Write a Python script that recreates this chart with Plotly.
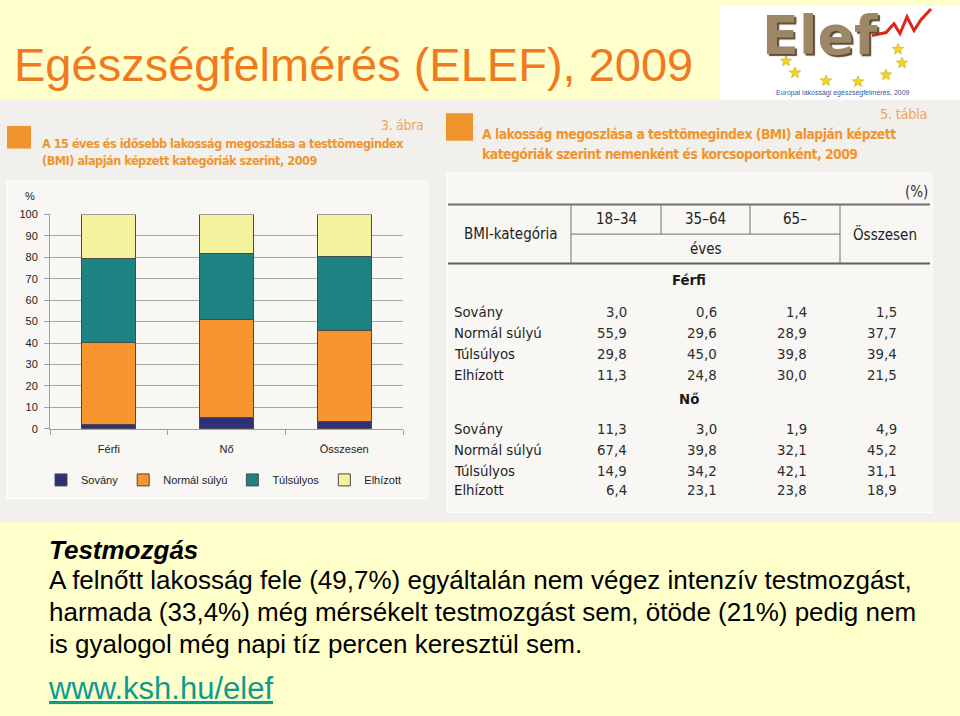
import math
import plotly.graph_objects as go

# ---------------- data ----------------
categories = ['Férfi', 'Nő', 'Összesen']
sovany = [1.8, 5.5, 3.5]
normal_sulyu = [38.5, 45.3, 42.3]
tulsulyos = [39.0, 31.0, 34.4]
elhizott = [20.7, 18.2, 19.8]
series_names = ['Sovány', 'Normál súlyú', 'Túlsúlyos', 'Elhízott']
series_colors = ['#2E3078', '#F7952E', '#1C8382', '#F4F29C']

y_ticks = [0, 10, 20, 30, 40, 50, 60, 70, 80, 90, 100]

age_groups = ['18–34', '35–64', '65–']
bmi_labels = ['Sovány', 'Normál súlyú', 'Túlsúlyos', 'Elhízott']
ferfi_rows = [[3.0, 0.6, 1.4, 1.5],
              [55.9, 29.6, 28.9, 37.7],
              [29.8, 45.0, 39.8, 39.4],
              [11.3, 24.8, 30.0, 21.5]]
no_rows = [[11.3, 3.0, 1.9, 4.9],
           [67.4, 39.8, 32.1, 45.2],
           [14.9, 34.2, 42.1, 31.1],
           [6.4, 23.1, 23.8, 18.9]]

body_lines = [
    'A felnőtt lakosság fele (49,7%) egyáltalán nem végez intenzív testmozgást,',
    'harmada (33,4%) még mérsékelt testmozgást sem, ötöde (21%) pedig nem',
    'is gyalogol még napi tíz percen keresztül sem.',
]

# ---------------- helpers ----------------
W, H = 960, 716
ARIAL = 'Liberation Sans, Arial, sans-serif'
NARROW = 'DejaVu Sans Condensed, Liberation Sans Narrow, Arial Narrow, sans-serif'
ORANGE = '#F0952E'
ORANGE_LIGHT = '#F2A35A'


def X(px):
    return px / W


def Y(py):
    return 1 - py / H


shapes = []
annotations = []


def rect(x0, y0, x1, y1, fill, line=None, lw=0, layer='below'):
    shapes.append(dict(type='rect', xref='paper', yref='paper',
                       x0=X(x0), x1=X(x1), y0=Y(y1), y1=Y(y0),
                       fillcolor=fill, layer=layer,
                       line=dict(color=line or fill, width=lw)))


def hline(x0, x1, y, color='#666666', w=1):
    shapes.append(dict(type='line', xref='paper', yref='paper',
                       x0=X(x0), x1=X(x1), y0=Y(y), y1=Y(y),
                       line=dict(color=color, width=w), layer='above'))


def vline(x, y0, y1, color='#666666', w=1):
    shapes.append(dict(type='line', xref='paper', yref='paper',
                       x0=X(x), x1=X(x), y0=Y(y0), y1=Y(y1),
                       line=dict(color=color, width=w), layer='above'))


def path_of(points, close=False):
    p = ' '.join([('M' if i == 0 else 'L') + f'{X(px):.5f},{Y(py):.5f}'
                  for i, (px, py) in enumerate(points)])
    return p + (' Z' if close else '')


def star(cx, cy, r):
    pts = []
    for k in range(10):
        ang = -math.pi / 2 + k * math.pi / 5
        rr = r if k % 2 == 0 else r * 0.42
        pts.append((cx + rr * math.cos(ang), cy + rr * math.sin(ang)))
    shapes.append(dict(type='path', xref='paper', yref='paper', layer='above',
                       path=path_of(pts, True), fillcolor='#F4D51E',
                       line=dict(color='#C9A414', width=0.6)))


def txt(x, y, s, size, color='#1E1E1E', xanchor='left', family=ARIAL, **fontkw):
    annotations.append(dict(xref='paper', yref='paper', x=X(x), y=Y(y),
                            text=s, showarrow=False, xanchor=xanchor,
                            yanchor='middle', borderpad=0,
                            font=dict(size=size, color=color, family=family, **fontkw)))


def squeeze(s, ls):
    return f'<span style="letter-spacing:{ls}px">{s}</span>'


def fmt(v):
    return f'{v:.1f}'.replace('.', ',')


# ---------------- background regions ----------------
rect(0, 95, 960, 525, '#F2F0ED')           # grey picture band
rect(720, 0, 960, 95, '#FFFFFF')           # logo area
rect(7, 178, 428, 501, '#F8F7F4', '#FFFFFF', 1)   # chart box
rect(447, 170, 932, 515, '#F8F7F4', '#FFFFFF', 1)  # table box
rect(7, 122, 31, 145, ORANGE)              # orange squares
rect(446, 109, 473, 137, ORANGE)

# ---------------- title ----------------
txt(13, 60, 'Egészségfelmérés (ELEF), 2009', 47, '#F07A1E')

# ---------------- logo ----------------
txt(820, 30, '<b>Elef</b>', 54, '#9C8767', xanchor='center',
    family='DejaVu Sans, sans-serif', shadow='2px 2px 1px #5C4B33')
shapes.append(dict(type='path', xref='paper', yref='paper', layer='above',
                   path=path_of([(872, 30), (886, 27), (894, 18), (900, 28),
                                 (907, 11), (914, 25), (921, 14), (931, 3)]),
                   line=dict(color='#E0241B', width=3)))
for sx, sy in [(795, 68), (826, 76), (858, 77), (886, 70), (902, 58), (898, 44), (786, 56)]:
    star(sx, sy, 6)
txt(843, 88, 'Európai lakossági egészségfelmérés, 2009', 7, '#3A5A9A', xanchor='center')

# ---------------- left chart headings ----------------
txt(425, 121, squeeze('3. ábra', -0.3), 14, ORANGE_LIGHT, xanchor='right', family=NARROW)
txt(41, 140, squeeze('<b>A 15 éves és idősebb lakosság megoszlása a testtömegindex</b>', -0.5),
    12.6, ORANGE, family=NARROW)
txt(41, 157, squeeze('<b>(BMI) alapján képzett kategóriák szerint, 2009</b>', -0.5),
    12.6, ORANGE, family=NARROW)
txt(30, 193, '%', 11, '#222222', xanchor='center')

# ---------------- right table ----------------
txt(928, 110, squeeze('5. tábla', -0.3), 14.5, ORANGE_LIGHT, xanchor='right', family=NARROW)
txt(481, 130, squeeze('<b>A lakosság megoszlása a testtömegindex (BMI) alapján képzett</b>', -0.5),
    13.8, ORANGE, family=NARROW)
txt(481, 151, squeeze('<b>kategóriák szerint nemenként és korcsoportonként, 2009</b>', -0.5),
    13.8, ORANGE, family=NARROW)
txt(929, 189, '(%)', 15, '#333333', xanchor='right', family=NARROW)

hline(448, 930, 202, '#707070', 2)
hline(448, 930, 262, '#606060', 2)
hline(571, 840, 232, '#707070', 1)
vline(571, 202, 262, '#707070', 1)
vline(661, 202, 232, '#707070', 1)
vline(750, 202, 232, '#707070', 1)
vline(840, 202, 262, '#707070', 1)

txt(463, 232, 'BMI-kategória', 15, '#222222', family=NARROW)
for lbl, cx in zip(age_groups, [616, 705.5, 795]):
    txt(cx, 217, lbl, 15, '#222222', xanchor='center', family=NARROW)
txt(705.5, 247, 'éves', 15, '#222222', xanchor='center', family=NARROW)
txt(885, 232, 'Összesen', 15, '#222222', xanchor='center', family=NARROW)

txt(689, 278, '<b>Férfi</b>', 14.8, '#1A1A1A', xanchor='center', family=NARROW)
txt(689, 399, '<b>Nő</b>', 14.8, '#1A1A1A', xanchor='center', family=NARROW)

value_right = [628, 718, 808, 898]
for rows, ys in [(ferfi_rows, [311, 332, 353, 375]), (no_rows, [430, 451, 472, 492])]:
    for lbl, vals, yy in zip(bmi_labels, rows, ys):
        txt(453, yy, lbl, 14.8, '#1E1E1E', family=NARROW)
        for v, xr in zip(vals, value_right):
            txt(xr, yy, fmt(v), 14.8, '#2E2E2E', xanchor='right', family=NARROW)

# ---------------- bottom text ----------------
txt(48, 553, '<b><i>Testmozgás</i></b>', 26, '#000000')
for line, yy in zip(body_lines, [584, 616, 649]):
    txt(48, yy, line, 26, '#000000')
txt(47, 694, 'www.ksh.hu/elef', 31, '#0E9A8E', lineposition='under')

# ---------------- bar chart ----------------
fig = go.Figure()
for name, vals, col in zip(series_names, [sovany, normal_sulyu, tulsulyos, elhizott], series_colors):
    fig.add_trace(go.Bar(x=categories, y=vals, name=name,
                         marker=dict(color=col, line=dict(color='#4A4A4A', width=1))))

fig.update_layout(
    width=W, height=H,
    margin=dict(l=0, r=0, t=0, b=0),
    paper_bgcolor='#FFFFCC',
    plot_bgcolor='rgba(0,0,0,0)',
    barmode='stack',
    bargap=0.54,
    font=dict(family=ARIAL, size=11, color='#222222'),
    shapes=shapes,
    annotations=annotations,
    showlegend=True,
    legend=dict(orientation='h', x=X(224), xanchor='center', y=Y(482), yanchor='middle',
                traceorder='normal', bgcolor='rgba(0,0,0,0)', font=dict(size=11, family=ARIAL),
                itemwidth=30),
    xaxis=dict(domain=[X(50), X(403)], type='category', showline=True, linecolor='#A0A0A0',
               ticks='outside', tickson='boundaries', ticklen=5, tickcolor='#A0A0A0',
               showgrid=False, tickfont=dict(size=11), ticklabelstandoff=10, fixedrange=True),
    yaxis=dict(domain=[Y(430), Y(212)], range=[0, 100], tickvals=y_ticks,
               showline=True, linecolor='#A0A0A0', ticks='outside', ticklen=5,
               tickcolor='#A0A0A0', gridcolor='#A6A6A6', gridwidth=1,
               zeroline=False, tickfont=dict(size=11), ticklabelstandoff=4, fixedrange=True),
)

fig.write_html('out.html', config={'displayModeBar': False},
               post_script="document.body.style.margin='0';document.body.style.padding='0';")
